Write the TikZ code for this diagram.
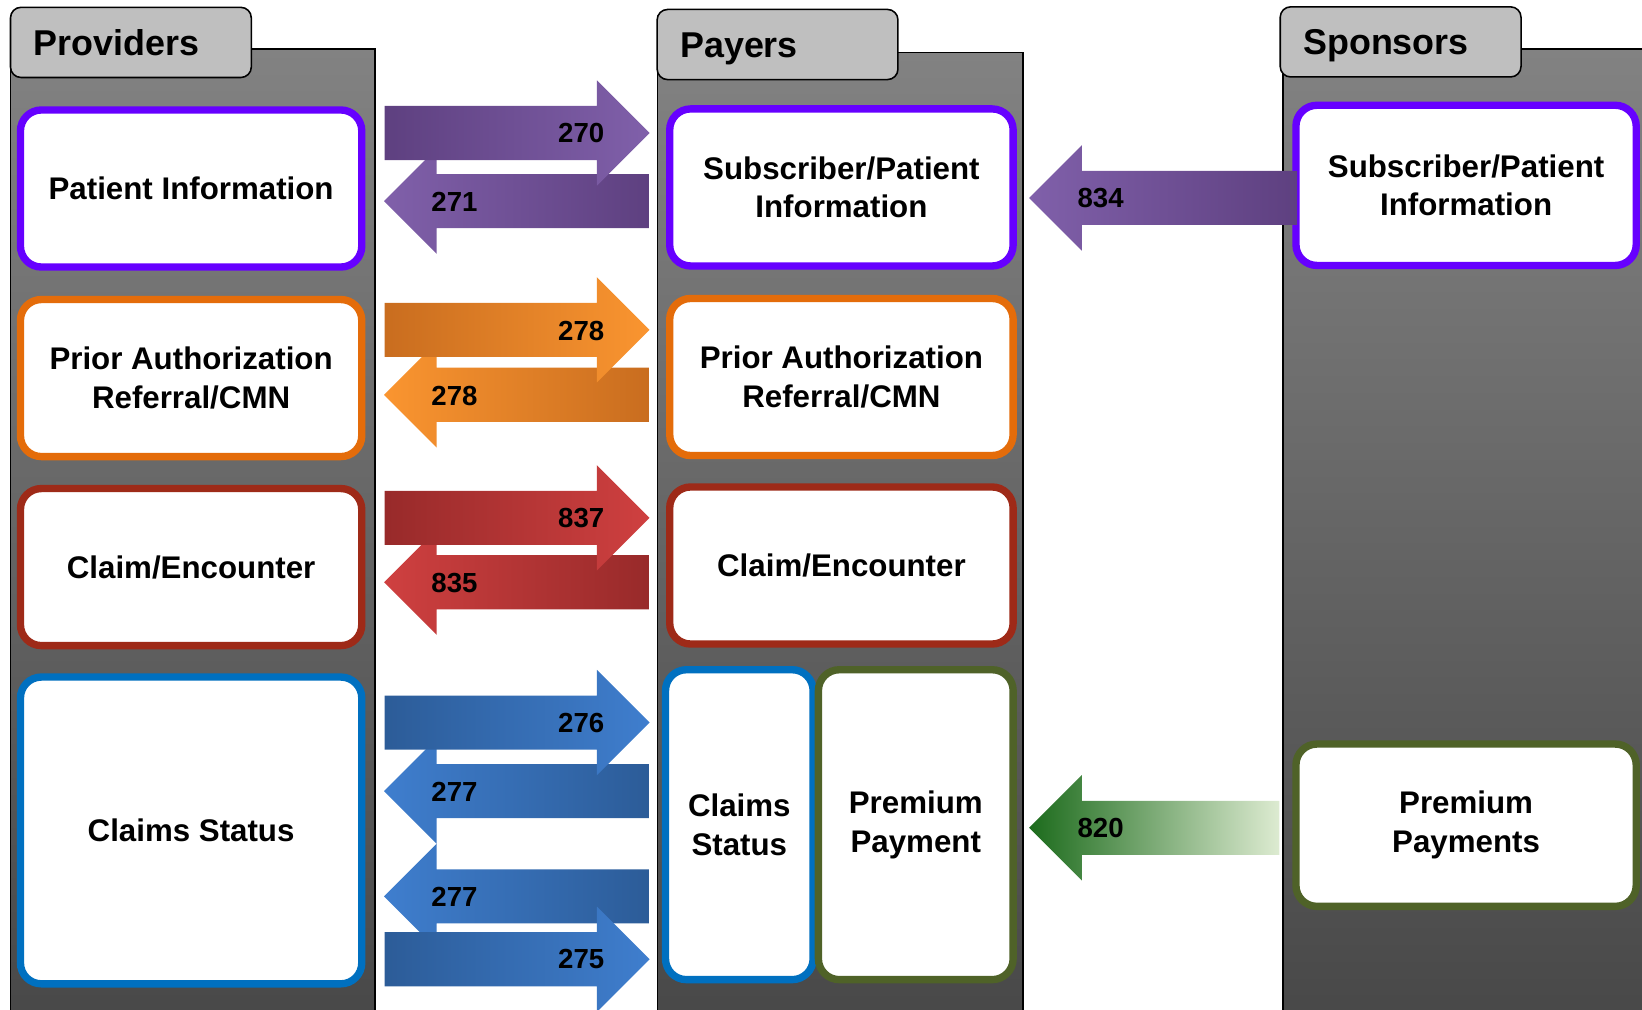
\documentclass[tikz,border=0pt]{standalone}
\usepackage{fontspec}
\setmainfont{Liberation Sans}
\usetikzlibrary{shapes.arrows}

\definecolor{panelTop}{HTML}{828282}
\definecolor{panelBot}{HTML}{474747}
\definecolor{tabGray}{HTML}{BFBFBF}
\definecolor{purpleLine}{HTML}{6600FF}
\definecolor{orangeLine}{HTML}{E46C0A}
\definecolor{redLine}{HTML}{9E2A18}
\definecolor{blueLine}{HTML}{0070C0}
\definecolor{greenLine}{HTML}{4F6228}
\definecolor{purpleDark}{HTML}{5E4080}
\definecolor{purpleLight}{HTML}{8060AA}
\definecolor{orangeDark}{HTML}{C96D1F}
\definecolor{orangeLight}{HTML}{FA9530}
\definecolor{redDark}{HTML}{982A2A}
\definecolor{redLight}{HTML}{CF4040}
\definecolor{blueDark}{HTML}{2C5C98}
\definecolor{blueLight}{HTML}{3F7ECE}
\definecolor{greenDark}{HTML}{1C6B1C}
\definecolor{greenMid}{HTML}{A3C282}
\definecolor{greenLight}{HTML}{DDEBD1}

\tikzset{
  panel/.style={draw=black, line width=0.85pt, top color=panelTop, bottom color=panelBot},
  tab/.style={draw=black, line width=0.85pt, fill=tabGray, rounded corners=0.2cm,
    minimum width=4.6cm, minimum height=1.34cm, inner xsep=0.44cm, text width=3.72cm,
    text height=0.5cm, text depth=0cm,
    align=left, font=\fontsize{19.5}{23}\selectfont\bfseries},
  box/.style={draw=#1, line width=4pt, fill=white, rounded corners=0.4cm, align=center,
    inner sep=0pt, minimum width=6.54cm, minimum height=3cm,
    font=\fontsize{17}{21}\selectfont\bfseries},
  fat/.style={single arrow, single arrow head extend=0.49cm, inner sep=0pt,
    inner ysep=0.51cm, minimum height=5.06cm, anchor=tail},
  rarrow/.style 2 args={fat, left color=#1, right color=#2},
  larrow/.style 2 args={fat, shape border rotate=180, left color=#2, right color=#1},
  num/.style={inner sep=0pt, font=\fontsize{15}{18}\selectfont\bfseries}
}

\begin{document}
\begin{tikzpicture}[x=0.02cm, y=-0.02cm]
\useasboundingbox (0,0) rectangle (1568,964);

% panels and tabs
\shadedraw[panel] (10,47) rectangle (358,990);
\shadedraw[panel] (628,50) rectangle (977,990);
\shadedraw[panel] (1225,47) rectangle (1620,990);
\node[tab] (provTab) at (125,40.5) {Providers};
\node[tab] (payTab) at (742.5,42.5) {Payers};
\node[tab] (sponTab) at (1337.5,40) {Sponsors};

% providers
\node[box=purpleLine, minimum width=6.52cm] (provPat) at (182.5,180) {Patient Information};
\node[box=orangeLine, minimum width=6.52cm] (provAuth) at (182.5,361) {Prior Authorization\\Referral/CMN};
\node[box=redLine, minimum width=6.52cm] (provClaim) at (182.5,541.5) {Claim/Encounter};
\node[box=blueLine, minimum width=6.52cm, minimum height=5.86cm] (provStatus) at (182.5,793) {Claims Status};

% payers
\node[box=purpleLine, minimum width=6.56cm] (payPat) at (803.5,179) {Subscriber/Patient\\Information};
\node[box=orangeLine, minimum width=6.56cm] (payAuth) at (803.5,360) {Prior Authorization\\Referral/CMN};
\node[box=redLine, minimum width=6.56cm] (payClaim) at (803.5,540) {Claim/Encounter};
\node[box=blueLine, minimum width=2.82cm, minimum height=5.92cm] (payStatus) at (706,787.5) {Claims\\Status};
\node[box=greenLine, minimum width=3.72cm, minimum height=5.92cm] (payPrem) at (874.5,787.5) {Premium\\Payment};

% sponsors
\node[box=purpleLine, minimum width=6.5cm, minimum height=3.06cm] (sponPat) at (1400,177) {Subscriber/Patient\\Information};
\node[box=greenLine, minimum width=6.5cm, minimum height=3.1cm] (sponPrem) at (1400,788) {Premium\\Payments};

% transactions
\node[larrow={purpleDark}{purpleLight}] (a271) at (620,192) {};
\node[num] (n271) at (434,193) {271};
\node[rarrow={purpleDark}{purpleLight}] (a270) at (367,127) {};
\node[num] (n270) at (555,127) {270};

\node[larrow={orangeDark}{orangeLight}] (a278b) at (620,377) {};
\node[num] (n278b) at (434,378) {278};
\node[rarrow={orangeDark}{orangeLight}] (a278a) at (367,315) {};
\node[num] (n278a) at (555,316) {278};

\node[larrow={redDark}{redLight}] (a835) at (620,556) {};
\node[num] (n835) at (434,557) {835};
\node[rarrow={redDark}{redLight}] (a837) at (367,494.5) {};
\node[num] (n837) at (555,495) {837};

\node[larrow={blueDark}{blueLight}] (a277a) at (620,755.5) {};
\node[num] (n277a) at (434,756) {277};
\node[larrow={blueDark}{blueLight}] (a277b) at (620,856) {};
\node[num] (n277b) at (434,856) {277};
\node[rarrow={blueDark}{blueLight}] (a276) at (367,690) {};
\node[num] (n276) at (555,690) {276};
\node[rarrow={blueDark}{blueLight}] (a275) at (367,916) {};
\node[num] (n275) at (555,916) {275};

\node[larrow={purpleDark}{purpleLight}, minimum height=5.12cm] (a834) at (1239,189) {};
\node[num] (n834) at (1051,189) {834};
\node[fat, shape border rotate=180, minimum height=4.78cm, left color=greenDark,
  middle color=greenMid, right color=greenLight] (a820) at (1222,790.5) {};
\node[num] (n820) at (1051,791) {820};
\end{tikzpicture}
\end{document}
